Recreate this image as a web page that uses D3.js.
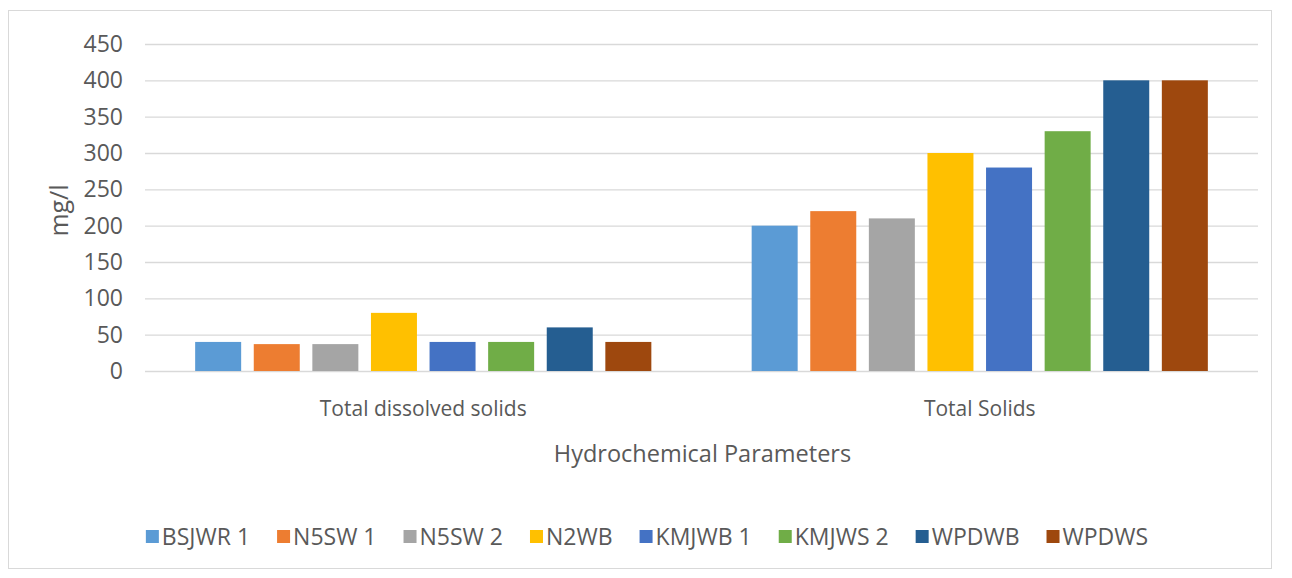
<!DOCTYPE html>
<html><head><meta charset="utf-8">
<script src="https://cdn.jsdelivr.net/npm/d3@7"></script>
<style>body{margin:0;background:#fff;} text{font-family:"Open Sans",sans-serif;}</style>
</head><body><svg id="c" width="1292" height="578"></svg>
<script>
const categories = ["Total dissolved solids", "Total Solids"];
const seriesNames = ["BSJWR 1","N5SW 1","N5SW 2","N2WB","KMJWB 1","KMJWS 2","WPDWB","WPDWS"];
const seriesColors = ["#5B9BD5","#ED7D31","#A5A5A5","#FFC000","#4472C4","#70AD47","#255E91","#9E480E"];
const tdsValues = [40, 37, 37, 80, 40, 40, 60, 40];
const tsValues = [200, 220, 210, 300, 280, 330, 400, 400];
const yTicks = [0,50,100,150,200,250,300,350,400,450];
const yTitle = "mg/l";
const xTitle = "Hydrochemical Parameters";

const valuesByCat = [tdsValues, tsValues];
const svg = d3.select("#c");
const m = {left:145, right:1258, top:44, bottom:371};
const textCol = "#595959";

svg.append("rect").attr("x",8.5).attr("y",10.5).attr("width",1263).attr("height",558)
  .attr("fill","#fff").attr("stroke","#d9d9d9").attr("stroke-width",1);

const y = d3.scaleLinear().domain([0,450]).range([m.bottom,m.top]);
const x0 = d3.scaleBand().domain(categories).range([m.left,m.right]).padding(0);
const x1 = d3.scaleBand().domain(seriesNames).range([0,x0.bandwidth()])
  .paddingInner(0.215).paddingOuter(0.856);

const yAxis = d3.axisLeft(y).tickValues(yTicks).tickSize(-(m.right-m.left)).tickPadding(22);
const gy = svg.append("g").attr("transform",`translate(${m.left},0)`).call(yAxis);
gy.select(".domain").remove();
gy.selectAll(".tick line").attr("stroke","#d9d9d9").attr("stroke-width",1.3);
gy.selectAll(".tick text").attr("fill",textCol).attr("font-size",23).attr("font-family","Open Sans");

const groups = svg.append("g").selectAll("g").data(categories).join("g")
  .attr("transform",d=>`translate(${x0(d)},0)`);
groups.selectAll("rect").data((d,i)=>valuesByCat[i].map((v,j)=>({v,s:seriesNames[j],c:seriesColors[j]})))
  .join("rect").attr("x",d=>x1(d.s)).attr("width",x1.bandwidth())
  .attr("y",d=>y(d.v)).attr("height",d=>y(0)-y(d.v)).attr("fill",d=>d.c);

const xAxis = d3.axisBottom(x0).tickSize(0);
const gx = svg.append("g").attr("transform",`translate(0,${m.bottom})`).call(xAxis);
gx.select(".domain").remove();
gx.selectAll(".tick text").attr("fill",textCol).attr("font-size",21).attr("font-family","Open Sans")
  .attr("y",45).attr("dy",0);

svg.append("text").attr("transform",`translate(68,${(m.top+m.bottom)/2+3}) rotate(-90)`)
  .attr("text-anchor","middle").attr("fill",textCol).attr("font-size",25).text(yTitle);
svg.append("text").attr("x",(m.left+m.right)/2+1).attr("y",462).attr("text-anchor","middle")
  .attr("fill",textCol).attr("font-size",23.5).text(xTitle);

const leg = svg.append("g");
let cx = 0;
const gap = 27;
seriesNames.forEach((n,i)=>{
  const g = leg.append("g").attr("transform",`translate(${cx},0)`);
  g.append("rect").attr("x",0).attr("y",-15).attr("width",13).attr("height",13).attr("fill",seriesColors[i]);
  const t = g.append("text").attr("x",16).attr("y",0).attr("fill",textCol).attr("font-size",23).text(n);
  cx += 16 + t.node().getComputedTextLength() + gap;
});
const legW = cx - gap;
leg.attr("transform",`translate(${647 - legW/2},545)`);
</script></body></html>
